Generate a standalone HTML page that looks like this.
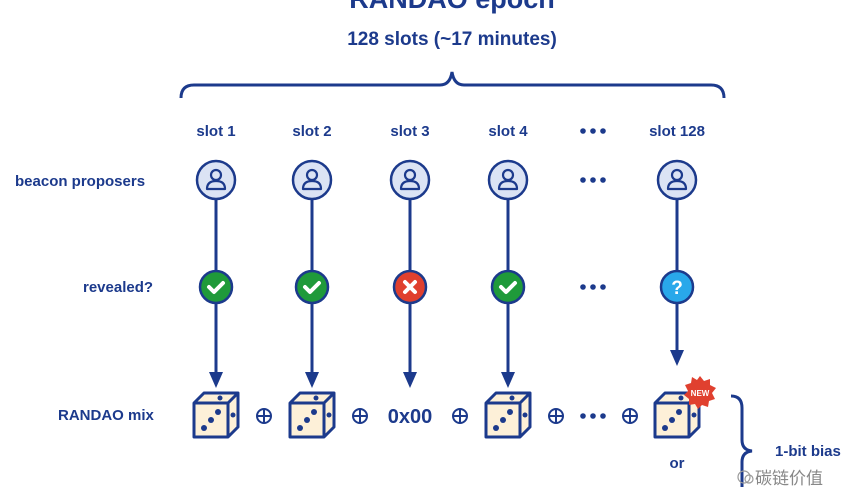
<!DOCTYPE html>
<html><head><meta charset="utf-8"><style>
html,body{margin:0;padding:0;background:#fff;}
svg{display:block}
text{font-family:"Liberation Sans","Noto Sans CJK SC",sans-serif;fill:#1c3a8c;font-weight:bold}
</style></head><body>
<svg width="864" height="487" viewBox="0 0 864 487" xmlns="http://www.w3.org/2000/svg">
<defs>
<g id="person"><circle r="19" fill="#dbe3f4" stroke="#1c3a8c" stroke-width="2.5"/>
<circle cy="-5" r="5" fill="none" stroke="#1c3a8c" stroke-width="2.2"/>
<path d="M-9 9 Q-9 1 0 1 Q9 1 9 9 Z" fill="none" stroke="#1c3a8c" stroke-width="2.2" stroke-linejoin="round"/></g>
<g id="ok"><circle r="16" fill="#1f9a3a" stroke="#1c3a8c" stroke-width="2.5"/><path d="M-7 0 L-2 5 L7 -4" fill="none" stroke="#fff" stroke-width="4" stroke-linecap="round" stroke-linejoin="round"/></g>
<g id="dice"><path d="M-22 -12 L-12 -22 L22 -22 L22 12 L12 22 L-22 22 Z" fill="#fdf0d8" stroke="#1c3a8c" stroke-width="3" stroke-linejoin="round"/>
<path d="M-22 -12 L12 -12 L12 22 M12 -12 L22 -22" fill="none" stroke="#1c3a8c" stroke-width="3"/>
<circle cx="-12" cy="13" r="3" fill="#1c3a8c"/><circle cx="-5" cy="5" r="3" fill="#1c3a8c"/><circle cx="2" cy="-3" r="3" fill="#1c3a8c"/><circle cx="4" cy="-17" r="2.5" fill="#1c3a8c"/><circle cx="17" cy="0" r="2.5" fill="#1c3a8c"/></g>
<g id="xor"><circle r="7" fill="none" stroke="#1c3a8c" stroke-width="2"/><path d="M-7 0H7M0 -7V7" stroke="#1c3a8c" stroke-width="2"/></g>
<g id="dots"><circle cx="-10" r="2.8" fill="#1c3a8c"/><circle r="2.8" fill="#1c3a8c"/><circle cx="10" r="2.8" fill="#1c3a8c"/></g>
</defs>
<text x="452" y="8" font-size="27" text-anchor="middle">RANDAO epoch</text>
<text x="452" y="45" font-size="19" text-anchor="middle" font-weight="normal" style="font-weight:600">128 slots (~17 minutes)</text>
<path d="M181 98 Q181 85 194 85 L440 85 Q450 85 452 72 Q454 85 464 85 L711 85 Q724 85 724 98" fill="none" stroke="#1c3a8c" stroke-width="3"/>
<g font-size="15" text-anchor="middle">
<text x="216" y="136">slot 1</text><text x="312" y="136">slot 2</text><text x="410" y="136">slot 3</text><text x="508" y="136">slot 4</text><text x="677" y="136">slot 128</text>
</g>
<use href="#dots" x="593" y="131"/>
<text x="15" y="186" font-size="15">beacon proposers</text>
<text x="83" y="292" font-size="15">revealed?</text>
<text x="58" y="420" font-size="15">RANDAO mix</text>
<g stroke="#1c3a8c" stroke-width="3">
<line x1="216" y1="199" x2="216" y2="375"/><line x1="312" y1="199" x2="312" y2="375"/><line x1="410" y1="199" x2="410" y2="375"/><line x1="508" y1="199" x2="508" y2="375"/><line x1="677" y1="199" x2="677" y2="352"/>
</g>
<g fill="#1c3a8c">
<path d="M209 372 L223 372 L216 388Z"/><path d="M305 372 L319 372 L312 388Z"/><path d="M403 372 L417 372 L410 388Z"/><path d="M501 372 L515 372 L508 388Z"/><path d="M670 350 L684 350 L677 366Z"/>
</g>
<use href="#person" x="216" y="180"/><use href="#person" x="312" y="180"/><use href="#person" x="410" y="180"/><use href="#person" x="508" y="180"/><use href="#person" x="677" y="180"/>
<use href="#dots" x="593" y="180"/>
<use href="#ok" x="216" y="287"/><use href="#ok" x="312" y="287"/><use href="#ok" x="508" y="287"/>
<g transform="translate(410,287)"><circle r="16" fill="#e0402f" stroke="#1c3a8c" stroke-width="2.5"/><path d="M-5 -5L5 5M5 -5L-5 5" stroke="#fff" stroke-width="4" stroke-linecap="round"/></g>
<g transform="translate(677,287)"><circle r="16" fill="#29a8ea" stroke="#1c3a8c" stroke-width="2.5"/><text y="7" font-size="19" text-anchor="middle" style="fill:#fff">?</text></g>
<use href="#dots" x="593" y="287"/>
<use href="#dice" x="216" y="415"/><use href="#dice" x="312" y="415"/><use href="#dice" x="508" y="415"/><use href="#dice" x="677" y="415"/>
<text x="410" y="423" font-size="20" text-anchor="middle" style="font-weight:600">0x00</text>
<use href="#xor" x="264" y="416"/><use href="#xor" x="360" y="416"/><use href="#xor" x="460" y="416"/><use href="#xor" x="556" y="416"/><use href="#xor" x="630" y="416"/>
<use href="#dots" x="593" y="416"/>
<g transform="translate(700,392)"><polygon points="0,-16 4,-11 10,-13 10,-7 16,-4 12,1 15,7 9,9 8,15 2,13 -2,17 -5,12 -11,13 -11,7 -16,3 -12,-1 -15,-7 -9,-9 -8,-15 -3,-12" fill="#e0402f"/><text y="4" font-size="8" text-anchor="middle" style="fill:#fff">NEW</text></g>
<text x="677" y="468" font-size="15" text-anchor="middle">or</text>
<text x="677" y="502" font-size="20" text-anchor="middle" style="font-weight:600">0x00</text>
<path d="M731 396 Q742 396 742 408 L742 440 Q742 450 752 451 Q742 452 742 462 L742 487" fill="none" stroke="#1c3a8c" stroke-width="3"/>
<text x="775" y="456" font-size="15">1-bit bias</text>
<g transform="translate(744,477)" fill="none" stroke="#999" stroke-width="1.2"><circle r="6"/><circle cx="5" cy="2" r="4"/></g>
<text x="755" y="484" font-size="17" style="fill:#888;font-weight:normal">碳链价值</text>
</svg>
</body></html>
